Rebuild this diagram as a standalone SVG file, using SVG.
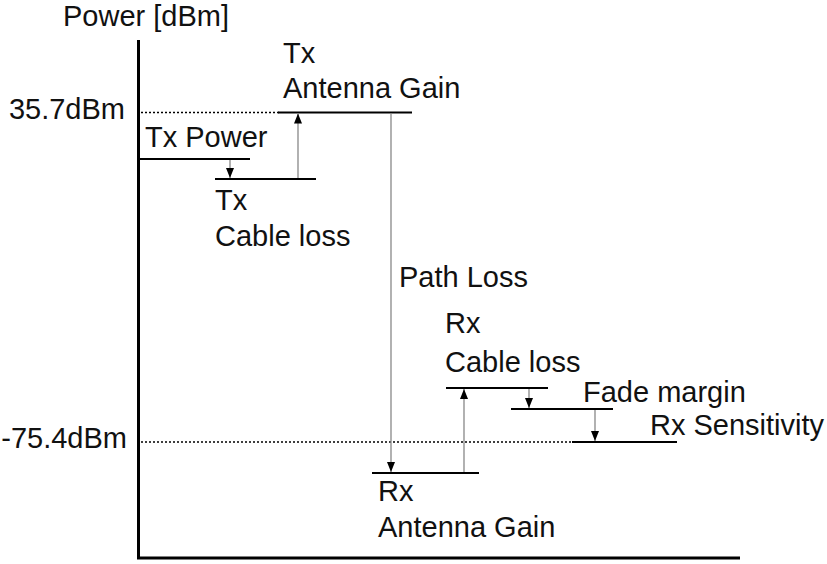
<svg xmlns="http://www.w3.org/2000/svg" width="827" height="564" viewBox="0 0 827 564">
<style>
text{font-family:"Liberation Sans",Arial,sans-serif;font-size:29px;fill:#111}
.lvl{stroke:#000;stroke-width:2.2}
.dot{stroke:#000;stroke-width:1.6;stroke-dasharray:2 2}
.shaft{stroke:#888;stroke-width:1.3;fill:none;marker-end:url(#ah)}
.axis{stroke:#000;stroke-width:3;fill:none}
</style>
<defs>
<marker id="ah" markerUnits="userSpaceOnUse" markerWidth="10" markerHeight="10" viewBox="0 0 10 10" refX="10" refY="5" orient="auto">
<path d="M0,1 L10,5 L0,9 Z" fill="#000"/>
</marker>
</defs>
<rect width="827" height="564" fill="#fff"/>
<g id="axes">
<path class="axis" d="M138.5,40 V558 H740"/>
<text x="63" y="26">Power [dBm]</text>
<text x="125" y="119" text-anchor="end">35.7dBm</text>
<text x="127" y="448" text-anchor="end">-75.4dBm</text>
<line class="dot" x1="141" y1="112.5" x2="280" y2="112.5"/>
<line class="dot" x1="141" y1="442" x2="572" y2="442"/>
</g>
<g id="tx-power">
<line class="lvl" x1="139" y1="159" x2="250" y2="159"/>
<text x="145" y="147">Tx Power</text>
</g>
<g id="tx-cable-loss">
<line class="lvl" x1="215" y1="179" x2="316" y2="179"/>
<text x="215" y="210">Tx</text>
<text x="215" y="246">Cable loss</text>
</g>
<g id="tx-antenna-gain">
<line class="lvl" x1="278" y1="112.5" x2="412" y2="112.5"/>
<text x="283" y="63">Tx</text>
<text x="283" y="98">Antenna Gain</text>
</g>
<g id="rx-antenna-gain">
<line class="lvl" x1="372" y1="473" x2="479" y2="473"/>
<text x="378" y="501">Rx</text>
<text x="378" y="537">Antenna Gain</text>
</g>
<g id="rx-cable-loss">
<line class="lvl" x1="446" y1="388" x2="548" y2="388"/>
<text x="445" y="333">Rx</text>
<text x="445" y="372">Cable loss</text>
</g>
<g id="fade-margin">
<line class="lvl" x1="511" y1="409" x2="613" y2="409"/>
<text x="583" y="402">Fade margin</text>
</g>
<g id="rx-sensitivity">
<line class="lvl" x1="572" y1="442" x2="677" y2="442"/>
<text x="650" y="435">Rx Sensitivity</text>
</g>
<g id="path-loss-label">
<text x="399" y="287">Path Loss</text>
</g>
<g id="connectors">
<line class="shaft" x1="230" y1="160" x2="230" y2="178"/>
<line class="shaft" x1="298" y1="178" x2="298" y2="113.5"/>
<line class="shaft" x1="391" y1="113.5" x2="391" y2="472"/>
<line class="shaft" x1="464" y1="472" x2="464" y2="389"/>
<line class="shaft" x1="529" y1="389" x2="529" y2="408"/>
<line class="shaft" x1="595" y1="410" x2="595" y2="441"/>
</g>
</svg>
